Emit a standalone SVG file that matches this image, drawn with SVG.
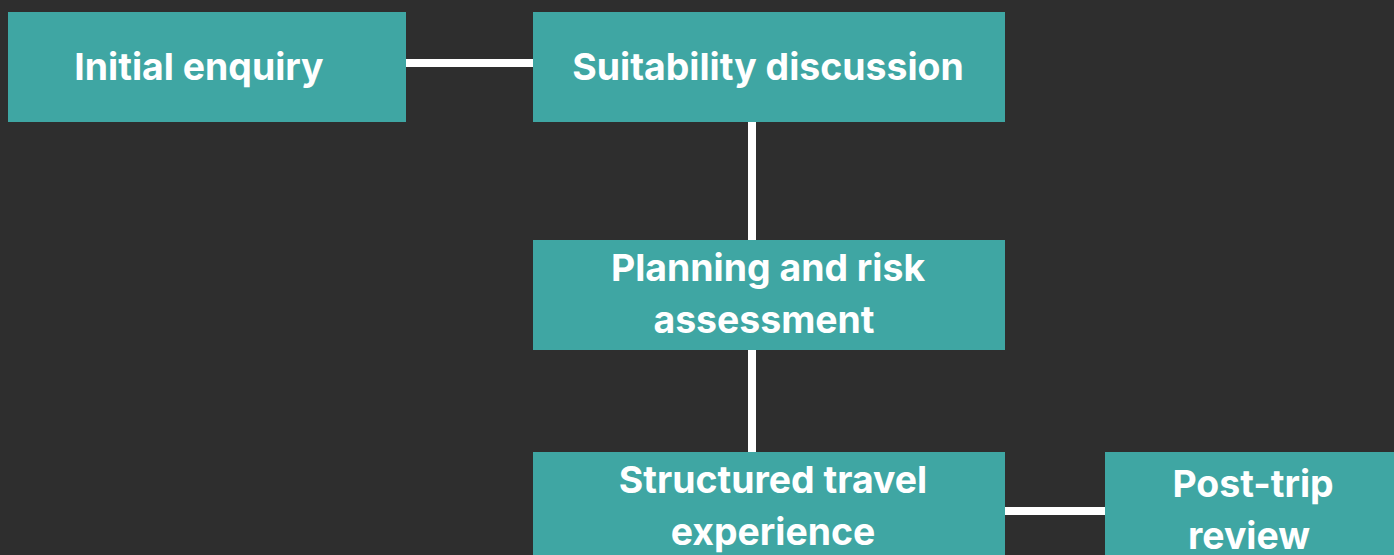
<svg xmlns="http://www.w3.org/2000/svg" width="1394" height="555" viewBox="0 0 1394 555">
<style>
.box{fill:#3fa6a3}
.t{font-family:Inter,"Noto Sans",sans-serif;font-weight:700;font-size:37.4px;fill:#ffffff;text-anchor:middle}
.c{stroke:#ffffff;stroke-width:8;fill:none}
</style>
<rect width="1394" height="555" fill="#2e2e2e"/>
<g id="connectors">
<line class="c" x1="406" y1="63" x2="533" y2="63"/>
<line class="c" x1="752" y1="122" x2="752" y2="240"/>
<line class="c" x1="752" y1="350" x2="752" y2="452"/>
<line class="c" x1="1005" y1="511" x2="1105" y2="511"/>
</g>
<g id="n1"><rect class="box" x="8" y="12" width="398" height="110"/><text class="t" x="199" y="80">Initial enquiry</text></g>
<g id="n2"><rect class="box" x="533" y="12" width="472" height="110"/><text class="t" x="768" y="80">Suitability discussion</text></g>
<g id="n3"><rect class="box" x="533" y="240" width="472" height="110"/><text class="t" x="768" y="281">Planning and risk</text><text class="t" x="764" y="333">assessment</text></g>
<g id="n4"><rect class="box" x="533" y="452" width="472" height="110"/><text class="t" x="773" y="493">Structured travel</text><text class="t" x="773" y="545">experience</text></g>
<g id="n5"><rect class="box" x="1105" y="452" width="300" height="110"/><text class="t" x="1253" y="497">Post-trip</text><text class="t" x="1249" y="549">review</text></g>
</svg>
